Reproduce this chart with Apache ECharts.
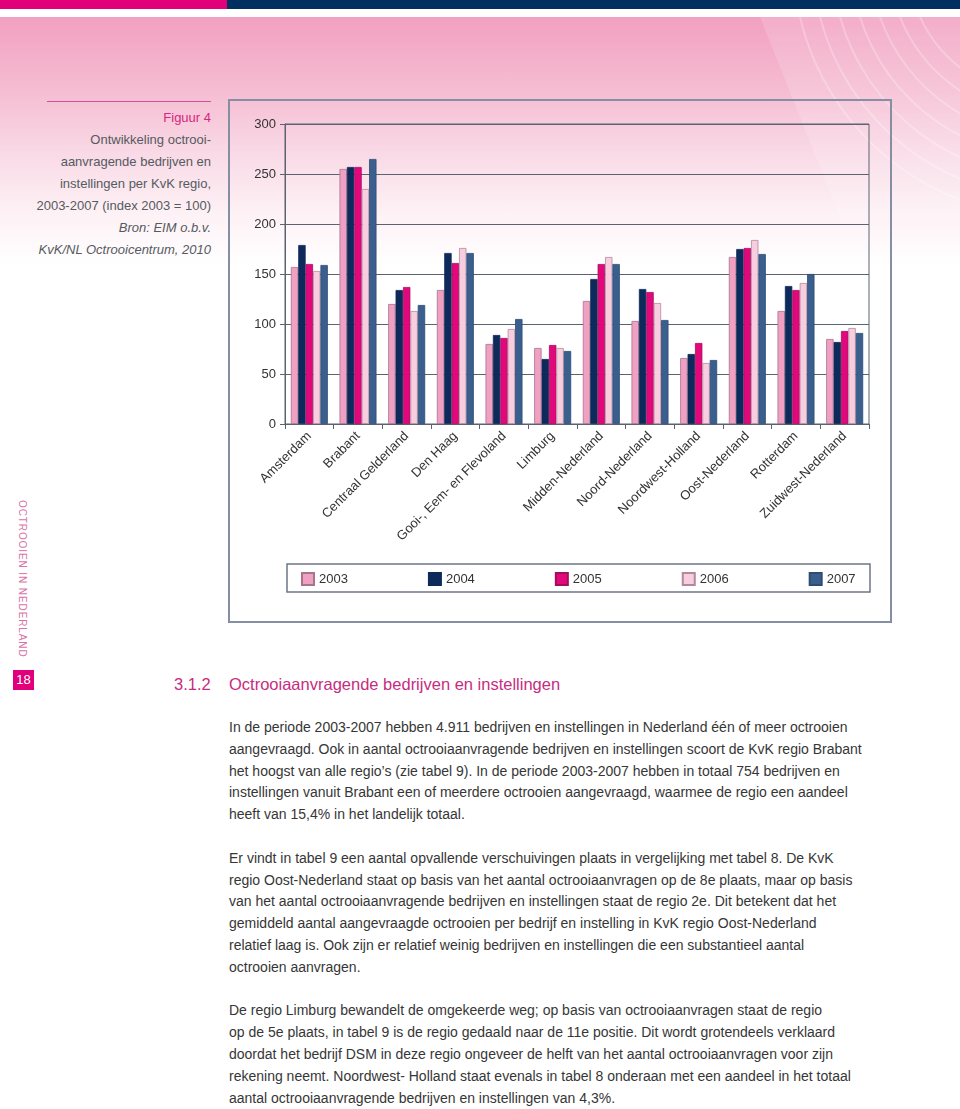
<!DOCTYPE html>
<html>
<head>
<meta charset="utf-8">
<script src="https://cdn.jsdelivr.net/npm/echarts@6/dist/echarts.min.js"></script>
<style>
  html, body { margin: 0; padding: 0; }
  body { width: 960px; height: 1109px; position: relative; overflow: hidden; background: #fff;
         font-family: "Liberation Sans", Arial, Helvetica, sans-serif; }
  .abs { position: absolute; }
  #barM { left: 0; top: 0; width: 227px; height: 9px; background: #e2007a; }
  #barN { left: 227px; top: 0; width: 733px; height: 9px; background: #00305f; }
  #bg { left: 0; top: 17px; width: 960px; height: 250px;
        background: linear-gradient(to bottom, #f2a0c0 0%, #f5bbd1 28%, #f9dae6 55%, #fdf1f5 78%, #ffffff 100%); }
  #deco { left: 0; top: 17px; }
  #rule { left: 47px; top: 101px; width: 164px; height: 1px; background: #d4509a; }
  #caption { right: 749px; top: 107px; text-align: right; font-size: 13px; line-height: 22px; color: #555a60; white-space: nowrap; }
  #caption .fig { color: #d4287f; }
  #caption i { font-style: italic; }
  #chart { left: 228px; top: 99px; width: 664px; height: 524px; }
  #side { left: 17px; top: 500px; writing-mode: vertical-rl; font-size: 10px; letter-spacing: 0.9px; color: #d873a8; white-space: nowrap; }
  #pnum { left: 13px; top: 670px; width: 21px; height: 20px; background: #e2007a; color: #fff; font-size: 13px; line-height: 20px; text-align: center; }
  #h1n { left: 174px; top: 675px; font-size: 16.5px; color: #c72c80; white-space: nowrap; }
  #h1t { left: 229px; top: 675px; font-size: 16.5px; color: #c72c80; white-space: nowrap; }
  #body { left: 229px; top: 717px; font-size: 14px; line-height: 21.8px; color: #363636; white-space: nowrap; }
  #body div { height: 21.8px; }
</style>
</head>
<body>
<div class="abs" id="barM"></div>
<div class="abs" id="barN"></div>
<div class="abs" id="bg"></div>
<svg class="abs" id="deco" width="960" height="200" viewBox="0 0 960 200">
  <polygon points="760,0 960,0 960,200 840,200" fill="#ffffff" opacity="0.15"/>
  <g fill="none" stroke="#ffffff" stroke-opacity="0.25" stroke-width="2">
    <path d="M 800 0 A 260 260 0 0 0 1060 200"/>
    <path d="M 820 0 A 240 240 0 0 0 1060 180"/>
    <path d="M 840 0 A 220 220 0 0 0 1060 160"/>
    <path d="M 860 0 A 200 200 0 0 0 1060 140"/>
    <path d="M 880 0 A 180 180 0 0 0 1060 120"/>
    <path d="M 900 0 A 160 160 0 0 0 1060 100"/>
    <path d="M 920 0 A 140 140 0 0 0 1060 80"/>
  </g>
</svg>
<div class="abs" id="rule"></div>
<div class="abs" id="caption">
  <div class="fig">Figuur 4</div>
  <div>Ontwikkeling octrooi-</div>
  <div>aanvragende bedrijven en</div>
  <div>instellingen per KvK regio,</div>
  <div>2003-2007 (index 2003 = 100)</div>
  <div><i>Bron: EIM o.b.v.</i></div>
  <div><i>KvK/NL Octrooicentrum, 2010</i></div>
</div>
<div class="abs" id="chart"></div>
<div class="abs" id="side">OCTROOIEN IN NEDERLAND</div>
<div class="abs" id="pnum">18</div>
<div class="abs" id="h1n">3.1.2</div>
<div class="abs" id="h1t">Octrooiaanvragende bedrijven en instellingen</div>
<div class="abs" id="body">
  <div>In de periode 2003-2007 hebben 4.911 bedrijven en instellingen in Nederland één of meer octrooien</div>
  <div>aangevraagd. Ook in aantal octrooiaanvragende bedrijven en instellingen scoort de KvK regio Brabant</div>
  <div>het hoogst van alle regio’s (zie tabel 9). In de periode 2003-2007 hebben in totaal 754 bedrijven en</div>
  <div>instellingen vanuit Brabant een of meerdere octrooien aangevraagd, waarmee de regio een aandeel</div>
  <div>heeft van 15,4% in het landelijk totaal.</div>
  <div></div>
  <div>Er vindt in tabel 9 een aantal opvallende verschuivingen plaats in vergelijking met tabel 8. De KvK</div>
  <div>regio Oost-Nederland staat op basis van het aantal octrooiaanvragen op de 8e plaats, maar op basis</div>
  <div>van het aantal octrooiaanvragende bedrijven en instellingen staat de regio 2e. Dit betekent dat het</div>
  <div>gemiddeld aantal aangevraagde octrooien per bedrijf en instelling in KvK regio Oost-Nederland</div>
  <div>relatief laag is. Ook zijn er relatief weinig bedrijven en instellingen die een substantieel aantal</div>
  <div>octrooien aanvragen.</div>
  <div></div>
  <div>De regio Limburg bewandelt de omgekeerde weg; op basis van octrooiaanvragen staat de regio</div>
  <div>op de 5e plaats, in tabel 9 is de regio gedaald naar de 11e positie. Dit wordt grotendeels verklaard</div>
  <div>doordat het bedrijf DSM in deze regio ongeveer de helft van het aantal octrooiaanvragen voor zijn</div>
  <div>rekening neemt. Noordwest- Holland staat evenals in tabel 8 onderaan met een aandeel in het totaal</div>
  <div>aantal octrooiaanvragende bedrijven en instellingen van 4,3%.</div>
</div>
<script>
const categories = ['Amsterdam', 'Brabant', 'Centraal Gelderland', 'Den Haag', 'Gooi-, Eem- en Flevoland',
  'Limburg', 'Midden-Nederland', 'Noord-Nederland', 'Noordwest-Holland', 'Oost-Nederland', 'Rotterdam', 'Zuidwest-Nederland'];
const seriesNames = ['2003', '2004', '2005', '2006', '2007'];
const v2003 = [157, 255, 120, 134, 80, 76, 123, 103, 66, 167, 113, 85];
const v2004 = [179, 257, 134, 171, 89, 65, 145, 135, 70, 175, 138, 82];
const v2005 = [160, 257, 137, 161, 86, 79, 160, 132, 81, 176, 134, 93];
const v2006 = [153, 235, 113, 176, 95, 76, 167, 121, 61, 184, 141, 96];
const v2007 = [159, 265, 119, 171, 105, 73, 160, 104, 64, 170, 150, 91];
const yTicks = [0, 50, 100, 150, 200, 250, 300];

const values = [v2003, v2004, v2005, v2006, v2007];
const fills = ['#f0a0c2', '#0d2a5a', '#e2087c', '#f8cde0', '#3a5f8e'];
const borders = ['#a8748c', '#0d2a5a', '#a30d5e', '#b08a9a', '#2f4c73'];

const chart = echarts.init(document.getElementById('chart'), null, { renderer: 'canvas' });
const font = '"Liberation Sans", Arial, Helvetica, sans-serif';
chart.setOption({
  backgroundColor: 'transparent',
  animation: false,
  textStyle: { fontFamily: font },
  grid: { left: 57, top: 25, width: 584, height: 300, show: true, borderColor: '#5b6270', borderWidth: 1, backgroundColor: 'transparent' },
  legend: {
    data: seriesNames,
    left: 68, top: 468,
    itemWidth: 12, itemHeight: 12, itemGap: 80,
    icon: 'rect',
    textStyle: { fontSize: 13, color: '#333', fontFamily: font }
  },
  xAxis: {
    type: 'category', data: categories,
    axisLine: { lineStyle: { color: '#5b6270', width: 1 } },
    axisTick: { show: true, length: 5, lineStyle: { color: '#5b6270' } },
    axisLabel: { interval: 0, rotate: 45, fontSize: 13, color: '#333', margin: 10, fontFamily: font }
  },
  yAxis: {
    type: 'value', min: yTicks[0], max: yTicks[yTicks.length - 1], interval: 50,
    axisLine: { show: true, lineStyle: { color: '#5b6270', width: 1 } },
    axisTick: { show: true, length: 5, lineStyle: { color: '#5b6270' } },
    axisLabel: { fontSize: 13, color: '#333', margin: 9, fontFamily: font },
    splitLine: { lineStyle: { color: '#5b6270', width: 1 } }
  },
  series: seriesNames.map((name, i) => ({
    name, type: 'bar', data: values[i],
    barGap: '0%', barCategoryGap: '24%',
    itemStyle: { color: fills[i], borderColor: borders[i], borderWidth: 0.8 }
  })),
  graphic: [
    { type: 'rect', shape: { x: 1, y: 1, width: 662, height: 522 }, style: { fill: 'none', stroke: '#858ea2', lineWidth: 2 }, silent: true },
    { type: 'rect', shape: { x: 59, y: 465, width: 583, height: 28 }, style: { fill: 'none', stroke: '#6e7687', lineWidth: 1.5 }, silent: true }
  ]
});
</script>
</body>
</html>
